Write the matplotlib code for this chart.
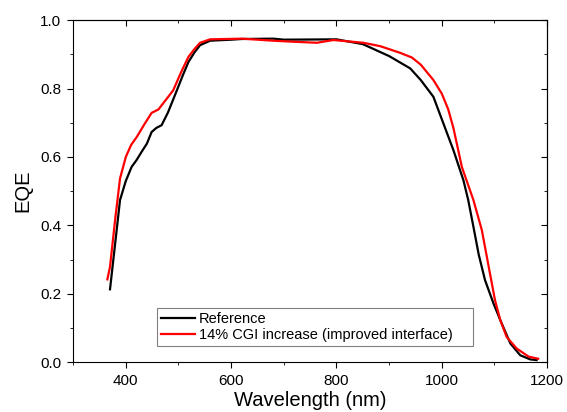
import numpy as np
import matplotlib
matplotlib.use('Agg')
import matplotlib.pyplot as plt
from matplotlib.ticker import MultipleLocator

plt.rcParams['font.family'] = ['Liberation Sans', 'DejaVu Sans']

# reference cell
wl_ref = [370, 380, 389, 400, 411, 420, 430, 440, 449, 458, 468, 480, 497, 508, 519, 530, 541,
          560, 600, 620, 680, 700, 800, 850, 900, 940, 960, 984, 1003, 1022, 1041, 1050,
          1060, 1070, 1082, 1098, 1111, 1130, 1149, 1168, 1180]
eqe_ref = [0.213, 0.35, 0.474, 0.53, 0.571, 0.59, 0.615, 0.639, 0.673, 0.685, 0.693, 0.73, 0.795,
           0.838, 0.878, 0.905, 0.927, 0.94, 0.943, 0.945, 0.946, 0.943, 0.944, 0.93, 0.895,
           0.859, 0.825, 0.776, 0.698, 0.62, 0.532, 0.475, 0.396, 0.315, 0.24, 0.172, 0.123,
           0.055, 0.02, 0.008, 0.006]

# 14% CGI increase
wl_cgi = [365, 370, 380, 389, 400, 410, 421, 435, 449, 462, 475, 490, 505, 519, 530, 541, 560,
          620, 680, 718, 763, 794, 851, 883, 920, 943, 960, 984, 1000, 1012, 1022, 1038, 1060, 1076,
          1089, 1101, 1111, 1123, 1142, 1165, 1183]
eqe_cgi = [0.242, 0.279, 0.42, 0.537, 0.60, 0.635, 0.659, 0.695, 0.729, 0.739, 0.765, 0.795, 0.848,
           0.893, 0.915, 0.934, 0.944, 0.946, 0.94, 0.937, 0.934, 0.942, 0.934, 0.924, 0.905,
           0.891, 0.87, 0.825, 0.785, 0.74, 0.685, 0.571, 0.474, 0.386, 0.279, 0.181, 0.123,
           0.074, 0.04, 0.016, 0.01]

fig, ax = plt.subplots(figsize=(5.67, 4.12), dpi=100)
fig.subplots_adjust(left=0.129, right=0.965, top=0.951, bottom=0.121)

ax.plot(wl_ref, eqe_ref, color='black', lw=1.6, label='Reference')
ax.plot(wl_cgi, eqe_cgi, color='red', lw=1.6, label='14% CGI increase (improved interface)')

ax.set_xlim(300, 1200)
ax.set_ylim(0, 1.0)
ax.xaxis.set_major_locator(MultipleLocator(200))
ax.xaxis.set_minor_locator(MultipleLocator(100))
ax.yaxis.set_major_locator(MultipleLocator(0.2))
ax.yaxis.set_minor_locator(MultipleLocator(0.1))
ax.tick_params(which='both', direction='out', labelsize=11)
ax.tick_params(which='major', length=4.5, pad=4)
ax.tick_params(which='minor', length=2.5)

# inward ticks on top and right, no labels
top = ax.secondary_xaxis('top')
top.xaxis.set_major_locator(MultipleLocator(200))
top.xaxis.set_minor_locator(MultipleLocator(100))
right = ax.secondary_yaxis('right')
right.yaxis.set_major_locator(MultipleLocator(0.2))
right.yaxis.set_minor_locator(MultipleLocator(0.1))
for s in (top, right):
    s.tick_params(which='both', direction='in', labeltop=False, labelright=False)
    s.tick_params(which='major', length=4.5)
    s.tick_params(which='minor', length=2.5)

ax.set_xlabel('Wavelength (nm)', fontsize=14.5, labelpad=2)
ax.set_ylabel('EQE', fontsize=14.5, labelpad=6)

leg = ax.legend(loc='lower left', bbox_to_anchor=(0.177, 0.047, 0.667, 0.1), mode='expand',
                fontsize=10.5, fancybox=False, framealpha=1, edgecolor='gray',
                handlelength=2.3, handletextpad=0.25, borderpad=0.3, labelspacing=0.1,
                borderaxespad=0)
leg.get_frame().set_linewidth(0.8)

fig.savefig('out.png', dpi=100)
